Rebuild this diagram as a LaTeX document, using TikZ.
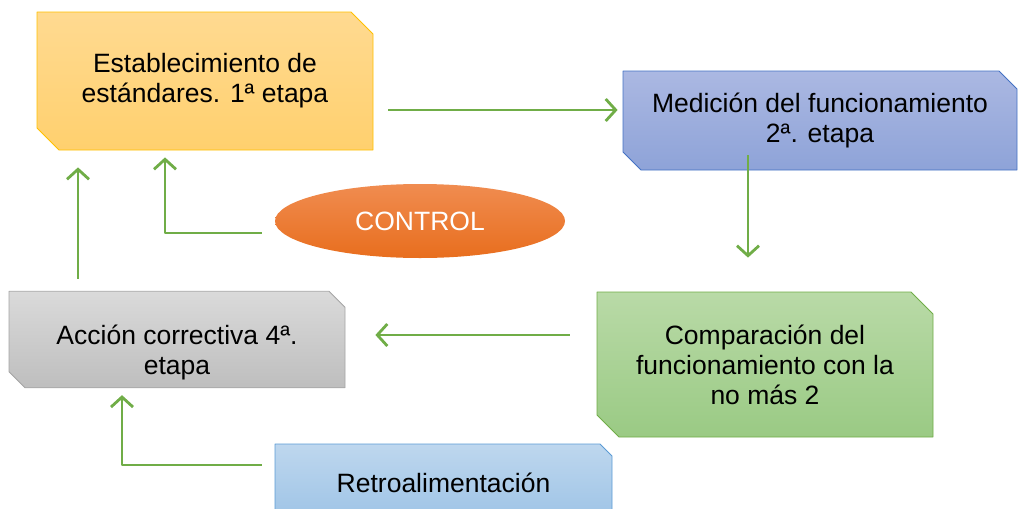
\documentclass[tikz,border=0pt]{standalone}
\usepackage{fontspec}
\setmainfont{Liberation Sans}
\usetikzlibrary{shapes.misc,shapes.geometric,arrows.meta}
\definecolor{verde}{HTML}{70AD47}
\begin{document}
\begin{tikzpicture}[x=1pt,y=-1pt,line join=round,
	font=\fontsize{26.5}{30}\selectfont,
	box/.style={chamfered rectangle,chamfered rectangle corners={north east,south west},chamfered rectangle sep=11pt,inner sep=0pt,align=center,line width=0.8pt},
	flow/.style={draw=verde,line width=2.8pt,-{Straight Barb[length=10pt,width=22pt,line width=2.8pt]}}]
	\useasboundingbox (0,0) rectangle (1018,509);
	\node[box,draw={rgb,255:red,255;green,192;blue,0},top color={rgb,255:red,255;green,218;blue,145},bottom color={rgb,255:red,255;green,208;blue,110},minimum width=336pt,minimum height=138pt] (est) at (205,81) {Establecimiento de\\estándares. 1ª etapa};
	\node[box,chamfered rectangle sep=9pt,draw={rgb,255:red,68;green,114;blue,196},top color={rgb,255:red,171;green,184;blue,226},bottom color={rgb,255:red,142;green,163;blue,216},minimum width=394pt,minimum height=99pt] (med) at (820,120.5) {Medición del funcionamiento\\2ª. etapa};
	\node[box,chamfered rectangle sep=8pt,draw={rgb,255:red,165;green,165;blue,165},top color={rgb,255:red,218;green,218;blue,218},bottom color={rgb,255:red,190;green,190;blue,190},minimum width=336pt,minimum height=95pt] (acc) at (177,339.5) {\rule{0pt}{45pt}Acción correctiva 4ª.\\etapa};
	\node[box,draw=verde,top color={rgb,255:red,185;green,218;blue,167},bottom color={rgb,255:red,154;green,202;blue,132},minimum width=336pt,minimum height=145pt] (com) at (765,364.5) {Comparación del\\funcionamiento con la\\no más 2};
	\node[box,chamfered rectangle sep=6pt,draw={rgb,255:red,91;green,155;blue,213},top color={rgb,255:red,190;green,215;blue,238},bottom color={rgb,255:red,157;green,195;blue,230},minimum width=337pt,minimum height=78pt] (retro) at (443.5,483) {Retroalimentación};
	\node[ellipse,inner sep=0pt,minimum width=290pt,minimum height=74pt,top color={rgb,255:red,240;green,140;blue,80},bottom color={rgb,255:red,232;green,110;blue,30},text=white] (ctrl) at (420,221) {CONTROL};
	% flechas
	\draw[flow] ([xshift=15pt,yshift=-29pt]est.east) -- ([xshift=-5pt,yshift=10.5pt]med.west);
	\draw[flow] ([xshift=-72pt,yshift=15pt]med.south) -- ([xshift=-17pt,yshift=34pt]com.north);
	\draw[flow] ([xshift=-27pt,yshift=29.5pt]com.west) -- ([xshift=30pt,yshift=4.5pt]acc.east);
	\draw[flow] ([xshift=-99pt,yshift=12pt]acc.north) -- ([xshift=-127pt,yshift=-17pt]est.south);
	\draw[flow] ([xshift=-13pt,yshift=-12pt]ctrl.west) -| ([xshift=-40pt,yshift=-7pt]est.south);
	\draw[flow] ([xshift=-13pt,yshift=18pt]retro.west) -| ([xshift=-55pt,yshift=-7pt]acc.south);
\end{tikzpicture}
\end{document}
